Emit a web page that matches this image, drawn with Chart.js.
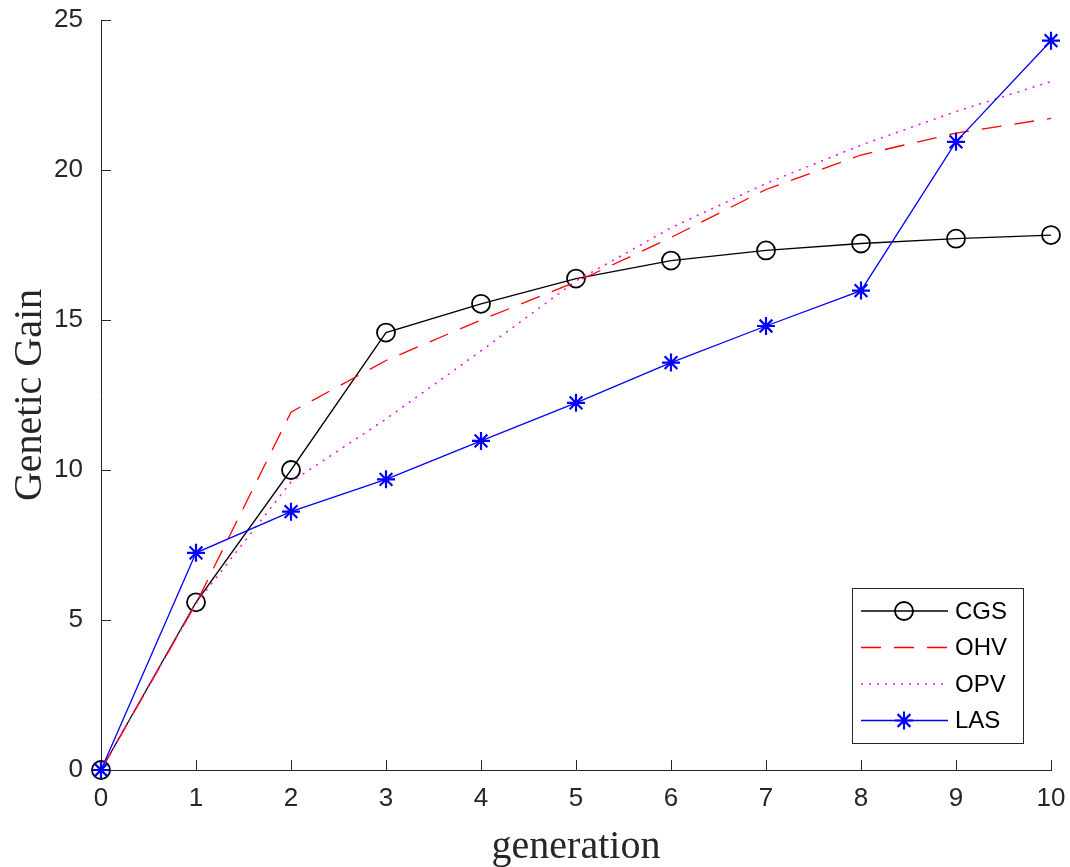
<!DOCTYPE html>
<html lang="en">
<head>
  <meta charset="UTF-8" />
  <title>Genetic Gain by generation</title>
  <script src="https://cdn.jsdelivr.net/npm/chart.js"></script>
  <style>
    body {
      margin: 0;
      background: #fff;
    }
    #wrap {
      width: 1070px;
      height: 867px;
    }
  </style>
</head>
<body>
  <div id="wrap">
    <canvas id="gainChart" width="1070" height="867"></canvas>
  </div>

  <script>
    const generations = [0, 1, 2, 3, 4, 5, 6, 7, 8, 9, 10];
    const seriesNames = ["CGS", "OHV", "OPV", "LAS"];
    const cgs = [0, 5.59, 10.0, 14.58, 15.54, 16.38, 16.98, 17.32, 17.55, 17.71, 17.83];
    const ohv = [0, 5.55, 11.93, 13.65, 15.0, 16.27, 17.75, 19.35, 20.5, 21.23, 21.72];
    const opv = [0, 5.55, 9.6, 11.7, 13.97, 16.3, 18.07, 19.55, 20.83, 21.95, 22.95];
    const las = [0, 7.24, 8.61, 9.69, 10.97, 12.24, 13.58, 14.8, 15.98, 20.94, 24.31];
    const xTicks = [0, 1, 2, 3, 4, 5, 6, 7, 8, 9, 10];
    const yTicks = [0, 5, 10, 15, 20, 25];

    const axisGray = "#262626";

    const toPoints = vals => vals.map((v, i) => ({ x: generations[i], y: v }));

    // ticks pointing inward + legend inside the axes, matlab style
    const matlabBits = {
      id: "matlabBits",
      beforeDatasetsDraw(chart) {
        const { ctx, chartArea, scales } = chart;
        ctx.save();
        ctx.strokeStyle = axisGray;
        ctx.lineWidth = 1;
        ctx.beginPath();
        xTicks.forEach(t => {
          const px = Math.round(scales.x.getPixelForValue(t)) + 0.5;
          ctx.moveTo(px, chartArea.bottom);
          ctx.lineTo(px, chartArea.bottom - 10);
        });
        yTicks.forEach(t => {
          const py = Math.round(scales.y.getPixelForValue(t)) + 0.5;
          ctx.moveTo(chartArea.left, py);
          ctx.lineTo(chartArea.left + 10, py);
        });
        ctx.stroke();
        ctx.restore();
      },
      afterDraw(chart) {
        const ctx = chart.ctx;
        const box = { x: 852.5, y: 588.5, w: 171, h: 155 };
        ctx.save();
        ctx.fillStyle = "#fff";
        ctx.fillRect(box.x, box.y, box.w, box.h);
        ctx.strokeStyle = axisGray;
        ctx.lineWidth = 1;
        ctx.strokeRect(box.x, box.y, box.w, box.h);

        chart.data.datasets.forEach((ds, i) => {
          const y = 611 + i * 36.5;
          ctx.strokeStyle = ds.borderColor;
          ctx.lineWidth = ds.borderWidth;
          ctx.setLineDash(ds.borderDash || []);
          ctx.beginPath();
          ctx.moveTo(861, y);
          ctx.lineTo(948, y);
          ctx.stroke();
          ctx.setLineDash([]);
          if (ds.pointRadius > 0) {
            ctx.strokeStyle = ds.pointBorderColor;
            ctx.fillStyle = "rgba(0,0,0,0)";
            ctx.lineWidth = ds.pointBorderWidth;
            Chart.helpers.drawPoint(ctx, {
              pointStyle: ds.pointStyle,
              radius: ds.pointRadius,
              borderWidth: ds.pointBorderWidth,
              rotation: 0
            }, 904, y);
          }
          ctx.fillStyle = "#000";
          ctx.font = "24px 'Liberation Sans', Arial, sans-serif";
          ctx.textBaseline = "middle";
          ctx.textAlign = "left";
          ctx.fillText(ds.label, 955, y + 1);
        });
        ctx.restore();
      }
    };

    const ctx = document.getElementById("gainChart").getContext("2d");
    const gainChart = new Chart(ctx, {
      type: "line",
      data: {
        datasets: [
          {
            label: seriesNames[0],
            data: toPoints(cgs),
            borderColor: "#000000",
            borderWidth: 1.3,
            pointStyle: "circle",
            pointRadius: 9,
            pointBorderWidth: 1.8,
            pointBorderColor: "#000000",
            pointBackgroundColor: "rgba(0,0,0,0)",
            order: 3
          },
          {
            label: seriesNames[1],
            data: toPoints(ohv),
            borderColor: "#ff0000",
            borderWidth: 1.3,
            borderDash: [20, 13],
            pointRadius: 0,
            order: 2
          },
          {
            label: seriesNames[2],
            data: toPoints(opv),
            borderColor: "#ff00ff",
            borderWidth: 1.5,
            borderDash: [2, 6],
            pointRadius: 0,
            order: 1
          },
          {
            label: seriesNames[3],
            data: toPoints(las),
            borderColor: "#0000ff",
            borderWidth: 1.3,
            pointStyle: "star",
            pointRadius: 9,
            pointBorderWidth: 2.2,
            pointBorderColor: "#0000ff",
            pointBackgroundColor: "#0000ff",
            order: 0
          }
        ]
      },
      options: {
        responsive: false,
        animation: false,
        layout: {
          padding: { top: 20, right: 19, left: 0, bottom: 0 }
        },
        elements: {
          line: { tension: 0, fill: false }
        },
        datasets: {
          line: { clip: false }
        },
        plugins: {
          legend: { display: false },
          tooltip: { enabled: false }
        },
        scales: {
          x: {
            type: "linear",
            min: 0,
            max: 10,
            afterFit(scale) {
              scale.height = 97;
              scale.paddingLeft = 0;
              scale.paddingRight = 0;
            },
            afterBuildTicks(scale) { scale.ticks = xTicks.map(v => ({ value: v })); },
            grid: { display: false, drawTicks: false },
            border: { display: true, color: axisGray, width: 1 },
            ticks: {
              color: axisGray,
              padding: 13,
              font: { family: "'Liberation Sans', Arial, sans-serif", size: 26 }
            },
            title: {
              display: true,
              text: "generation",
              color: axisGray,
              padding: { top: 0, bottom: 0 },
              font: { family: "'Liberation Serif', 'Times New Roman', serif", size: 40, lineHeight: 1 }
            }
          },
          y: {
            type: "linear",
            min: 0,
            max: 25,
            afterFit(scale) {
              scale.width = 101;
              scale.paddingTop = 0;
              scale.paddingBottom = 0;
            },
            afterBuildTicks(scale) { scale.ticks = yTicks.map(v => ({ value: v })); },
            grid: { display: false, drawTicks: false },
            border: { display: true, color: axisGray, width: 1 },
            ticks: {
              color: axisGray,
              padding: 18,
              font: { family: "'Liberation Sans', Arial, sans-serif", size: 26 }
            },
            title: {
              display: true,
              text: "Genetic Gain",
              color: axisGray,
              padding: { top: 10, bottom: 0 },
              font: { family: "'Liberation Serif', 'Times New Roman', serif", size: 40, lineHeight: 1 }
            }
          }
        }
      },
      plugins: [matlabBits]
    });
  </script>
</body>
</html>
